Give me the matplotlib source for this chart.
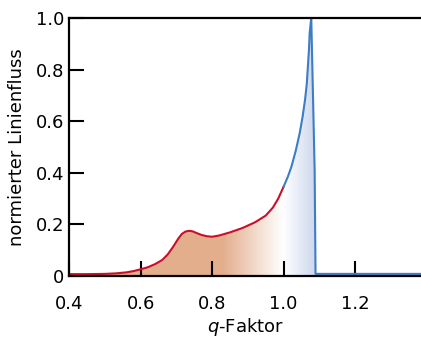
import numpy as np
import matplotlib
matplotlib.use("Agg")
import matplotlib.pyplot as plt
from matplotlib.colors import LinearSegmentedColormap

# data
red_q = [0.40, 0.45, 0.50, 0.53, 0.56, 0.58, 0.60, 0.62, 0.64, 0.66, 0.675, 0.69, 0.705,
         0.715, 0.725, 0.735, 0.745, 0.755, 0.77, 0.785, 0.80, 0.82, 0.85, 0.885, 0.92,
         0.95, 0.97, 0.985, 1.00]
red_f = [0.007, 0.007, 0.008, 0.010, 0.014, 0.019, 0.026, 0.034, 0.046, 0.062, 0.083, 0.112, 0.145,
         0.163, 0.172, 0.175, 0.173, 0.167, 0.159, 0.154, 0.152, 0.157, 0.169, 0.186, 0.208,
         0.234, 0.265, 0.300, 0.346]
blue_q = [1.00, 1.012, 1.022, 1.034, 1.045, 1.053, 1.06, 1.065, 1.068, 1.071, 1.073, 1.0755,
          1.0775, 1.087, 1.0895, 1.12, 1.39]
blue_f = [0.346, 0.385, 0.424, 0.485, 0.553, 0.615, 0.682, 0.745, 0.811, 0.875, 0.94, 0.975,
          1.0, 0.41, 0.008, 0.008, 0.008]

x_ticks = [0.4, 0.6, 0.8, 1.0, 1.2]
x_labels = ["0.4", "0.6", "0.8", "1.0", "1.2"]
y_ticks = [0, 0.2, 0.4, 0.6, 0.8, 1.0]
y_labels = ["0", "0.2", "0.4", "0.6", "0.8", "1.0"]

plt.rcParams['font.family'] = ['DejaVu Sans']
fig = plt.figure(figsize=(4.21, 3.39), dpi=100)
ax = fig.add_axes([0.165, 0.186, 0.835, 0.761])

xmin, xmax = 0.4, 1.385
ax.set_xlim(xmin, xmax)
ax.set_ylim(0, 1.0)

# gradient fill under the curve
n_peak = blue_q.index(1.0895)
fill_q = red_q + blue_q[1:n_peak + 1]
fill_f = red_f + blue_f[1:n_peak + 1]
poly = ax.fill_between(fill_q, 0, fill_f, facecolor='none', edgecolor='none')
orange = (227/255, 174/255, 140/255)
white = (1, 1, 1)
blue_c = (205/255, 216/255, 238/255)
def pos(q):
    return (q - 0.4) / (1.09 - 0.4)
cmap = LinearSegmentedColormap.from_list('g', [(0, orange), (pos(0.83), orange),
                                               (pos(1.0), white), (1.0, blue_c)])
grad = np.linspace(0, 1, 600).reshape(1, -1)
im = ax.imshow(grad, extent=[0.4, 1.09, 0, 1.0], aspect='auto', cmap=cmap,
               origin='lower', zorder=1)
path = poly.get_paths()[0]
im.set_clip_path(path, transform=ax.transData)

ax.plot(red_q, red_f, color='#c8102e', lw=1.5, zorder=3, solid_capstyle='round',
        solid_joinstyle='round')
ax.plot(blue_q, blue_f, color='#3d7cc6', lw=1.5, zorder=3, solid_joinstyle='round')

ax.spines['right'].set_visible(False)
for s in ['top', 'left', 'bottom']:
    ax.spines[s].set_linewidth(1.6)
    ax.spines[s].set_zorder(4)

ax.set_xticks(x_ticks)
ax.set_xticklabels(x_labels)
ax.set_yticks(y_ticks)
ax.set_yticklabels(y_labels)
ax.tick_params(axis='both', direction='in', length=11, width=1.5, labelsize=13)
ax.tick_params(axis='x', pad=14)
ax.tick_params(axis='y', pad=4)

ax.set_xlabel(r'$\mathit{q}$-Faktor', fontsize=13, labelpad=2)
ax.set_ylabel('normierter Linienfluss', fontsize=13, labelpad=7)

fig.savefig('out.png', dpi=100)
